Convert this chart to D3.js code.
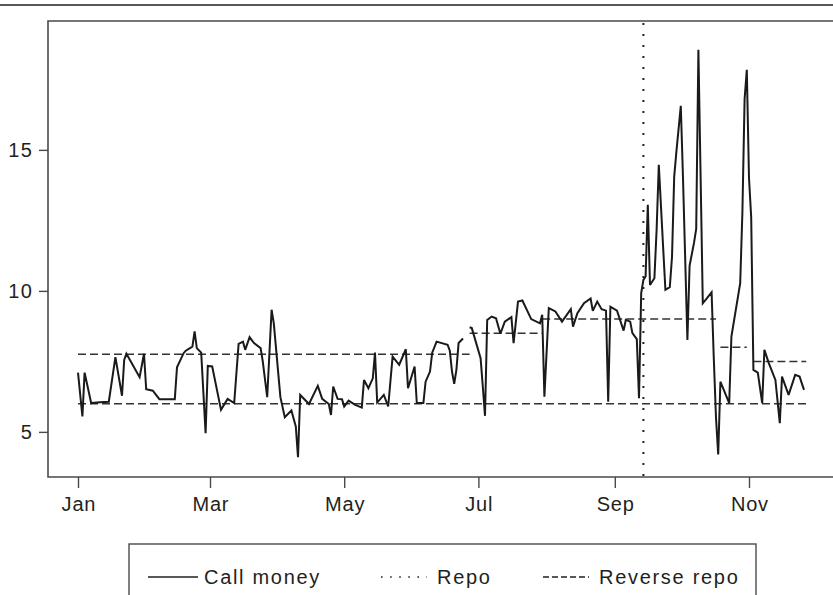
<!DOCTYPE html>
<html>
<head>
<meta charset="utf-8">
<script src="https://cdn.jsdelivr.net/npm/d3@7"></script>
<style>
  html, body { margin: 0; padding: 0; background: #fff; }
  svg { display: block; font-family: "Liberation Sans", Arial, Helvetica, sans-serif; }
</style>
</head>
<body>
<svg id="chart" width="833" height="595"></svg>
<script>
// Daily call money rate, 2008 (per cent)
const callDates = [
  "2008-01-01","2008-01-03","2008-01-04","2008-01-07","2008-01-11","2008-01-15","2008-01-18","2008-01-21","2008-01-22","2008-01-23",
  "2008-01-29","2008-01-31","2008-02-01","2008-02-04","2008-02-07","2008-02-14","2008-02-15","2008-02-18","2008-02-19","2008-02-22",
  "2008-02-23","2008-02-24","2008-02-26","2008-02-28","2008-02-29","2008-03-02","2008-03-06","2008-03-09","2008-03-12","2008-03-14",
  "2008-03-16","2008-03-17","2008-03-19","2008-03-21","2008-03-24","2008-03-25","2008-03-27","2008-03-29","2008-03-30","2008-04-02",
  "2008-04-04","2008-04-07","2008-04-09","2008-04-10","2008-04-11","2008-04-15","2008-04-19","2008-04-21","2008-04-24","2008-04-25",
  "2008-04-26","2008-04-28","2008-04-30","2008-05-01","2008-05-03","2008-05-06","2008-05-09","2008-05-10","2008-05-12","2008-05-14",
  "2008-05-15","2008-05-16","2008-05-19","2008-05-21","2008-05-23","2008-05-26","2008-05-29","2008-05-30","2008-06-02","2008-06-03",
  "2008-06-06","2008-06-07","2008-06-09","2008-06-10","2008-06-12","2008-06-17","2008-06-18","2008-06-19","2008-06-20","2008-06-21",
  "2008-06-22","2008-06-24","2008-06-25","2008-06-27","2008-06-28","2008-07-02","2008-07-03","2008-07-04","2008-07-05","2008-07-07",
  "2008-07-09","2008-07-11","2008-07-13","2008-07-16","2008-07-17","2008-07-19","2008-07-21","2008-07-25","2008-07-29","2008-07-30",
  "2008-07-31","2008-08-02","2008-08-05","2008-08-08","2008-08-12","2008-08-13","2008-08-15","2008-08-18","2008-08-21","2008-08-22",
  "2008-08-24","2008-08-26","2008-08-28","2008-08-29","2008-08-30","2008-09-02","2008-09-05","2008-09-06","2008-09-08","2008-09-09",
  "2008-09-11","2008-09-12","2008-09-13","2008-09-14","2008-09-15","2008-09-16","2008-09-17","2008-09-19","2008-09-20","2008-09-21",
  "2008-09-23","2008-09-24","2008-09-26","2008-09-27","2008-09-28","2008-09-29","2008-10-01","2008-10-02","2008-10-04","2008-10-05",
  "2008-10-07","2008-10-08","2008-10-09","2008-10-11","2008-10-13","2008-10-15","2008-10-16","2008-10-17","2008-10-18","2008-10-19",
  "2008-10-23","2008-10-24","2008-10-28","2008-10-29","2008-10-30","2008-10-31","2008-11-01","2008-11-02","2008-11-03","2008-11-05",
  "2008-11-07","2008-11-08","2008-11-10","2008-11-13","2008-11-15","2008-11-16","2008-11-19","2008-11-22","2008-11-24","2008-11-26"
];
const callRates = [
  7.10, 5.55, 7.10, 6.02, 6.05, 6.07, 7.65, 6.28, 7.55, 7.77,
  6.94, 7.77, 6.51, 6.46, 6.16, 6.16, 7.29, 7.79, 7.88, 8.02,
  8.56, 7.97, 7.81, 4.95, 7.34, 7.32, 5.78, 6.17, 6.02, 8.12,
  8.20, 7.91, 8.36, 8.15, 7.97, 7.49, 6.23, 9.33, 8.85, 6.23,
  5.52, 5.76, 5.19, 4.10, 6.31, 5.99, 6.63, 6.17, 5.99, 5.60,
  6.61, 6.17, 6.16, 5.90, 6.11, 5.96, 5.86, 6.84, 6.55, 6.90,
  7.81, 6.04, 6.31, 5.90, 7.67, 7.38, 7.93, 6.55, 7.32, 6.02,
  6.02, 6.78, 7.14, 7.81, 8.20, 8.09, 7.88, 7.14, 6.70, 7.20,
  8.15, 8.31, null, 8.71, 8.68, 7.61, 6.61, 5.57, 8.97, 9.09,
  9.03, 8.48, 8.91, 9.07, 8.15, 9.62, 9.66, 9.00, 8.85, 9.15,
  6.25, 9.39, 9.27, 8.91, 9.35, 8.73, 9.21, 9.56, 9.73, 9.29,
  9.62, 9.35, 9.30, 6.07, 9.44, 9.30, 8.59, 8.97, 8.91, 8.50,
  8.29, 6.19, 9.92, 10.39, 10.51, 13.05, 10.21, 10.45, 12.16, 14.47,
  11.50, 10.04, 10.13, 11.20, 14.05, 14.94, 16.56, 14.00, 8.26, 10.90,
  11.70, 12.20, 18.55, 9.56, 9.75, 9.95, 7.60, 5.50, 4.20, 6.78,
  6.02, 8.38, 10.27, 12.80, 16.80, 17.84, 14.00, 12.60, 7.20, 7.10,
  6.02, 7.91, 7.44, 6.84, 5.31, 6.96, 6.31, 7.02, 6.96, 6.49
];

// Stepped policy rate (upper band)
const upperStart = ["2008-01-01","2008-06-27","2008-07-30","2008-10-19","2008-11-03"];
const upperEnd   = ["2008-06-27","2008-07-30","2008-10-17","2008-10-31","2008-11-27"];
const upperRate  = [7.75, 8.5, 9, 8, 7.5];

// Flat lower band
const lowerStart = ["2008-01-01"];
const lowerEnd   = ["2008-11-27"];
const lowerRate  = [6];

// Vertical marker
const markerDate = "2008-09-14";

// Axis ticks
const xTickDates  = ["2008-01-01","2008-03-01","2008-05-01","2008-07-01","2008-09-01","2008-11-01"];
const xTickLabels = ["Jan","Mar","May","Jul","Sep","Nov"];
const yTicks = [5, 10, 15];

// Legend
const legendLabels = ["Call money", "Repo", "Reverse repo"];

const parse = d3.timeParse("%Y-%m-%d");
const svg = d3.select("#chart");

const frame = { left: 48, top: 21, right: 833, bottom: 477 };

const x = d3.scaleTime()
  .domain([parse("2008-01-01"), parse("2008-11-01")])
  .range([78, 749]);

const y = d3.scaleLinear()
  .domain([3.4, 19.57])
  .range([frame.bottom, frame.top]);

const ink = "#231f20";
const labelFont = "'Liberation Sans', Arial, Helvetica, sans-serif";

// top rule across the page
svg.append("line")
  .attr("x1", 0).attr("x2", 833).attr("y1", 5).attr("y2", 5)
  .attr("stroke", ink).attr("stroke-width", 1.6);

// plot frame (open on the right)
svg.append("path")
  .attr("d", `M${frame.right},${frame.top}H${frame.left}V${frame.bottom}H${frame.right}`)
  .attr("fill", "none").attr("stroke", "#4a4a4a").attr("stroke-width", 1.6);

// x axis
const xAxis = d3.axisBottom(x)
  .tickValues(xTickDates.map(parse))
  .tickFormat((d, i) => xTickLabels[i])
  .tickSize(11).tickPadding(9);
const gx = svg.append("g").attr("transform", `translate(0,${frame.bottom})`).call(xAxis);
gx.select(".domain").remove();
gx.selectAll(".tick line").attr("stroke", "#4a4a4a").attr("stroke-width", 1.4);
gx.selectAll(".tick text")
  .attr("font-size", 20).attr("fill", ink).attr("font-family", labelFont)
  .attr("letter-spacing", 0.8).attr("dx", 0.4);

// y axis
const yAxis = d3.axisLeft(y).tickValues(yTicks).tickSize(9).tickPadding(6);
const gy = svg.append("g").attr("transform", `translate(${frame.left},0)`).call(yAxis);
gy.select(".domain").remove();
gy.selectAll(".tick line").attr("stroke", "#4a4a4a").attr("stroke-width", 1.4);
gy.selectAll(".tick text")
  .attr("font-size", 20).attr("fill", ink).attr("font-family", labelFont)
  .attr("letter-spacing", 1.2);

// dashed rate bands
function drawSteps(starts, ends, rates) {
  svg.append("g").selectAll("line")
    .data(rates.map((r, i) => ({ s: parse(starts[i]), e: parse(ends[i]), r })))
    .join("line")
    .attr("x1", d => x(d.s)).attr("x2", d => x(d.e))
    .attr("y1", d => y(d.r)).attr("y2", d => y(d.r))
    .attr("stroke", "#333").attr("stroke-width", 1.5)
    .attr("stroke-dasharray", "8,4");
}
drawSteps(upperStart, upperEnd, upperRate);
drawSteps(lowerStart, lowerEnd, lowerRate);

// dotted vertical marker
svg.append("line")
  .attr("x1", x(parse(markerDate))).attr("x2", x(parse(markerDate)))
  .attr("y1", frame.top + 2).attr("y2", frame.bottom)
  .attr("stroke", "#222").attr("stroke-width", 2)
  .attr("stroke-dasharray", "2,9");

// call money line
const series = callDates.map((d, i) => ({ date: parse(d), v: callRates[i] }));
const line = d3.line()
  .defined(d => d.v !== null)
  .x(d => x(d.date))
  .y(d => y(d.v));
svg.append("path")
  .datum(series)
  .attr("d", line)
  .attr("fill", "none")
  .attr("stroke", "#1a1a1a")
  .attr("stroke-width", 2)
  .attr("stroke-linejoin", "miter")
  .attr("stroke-miterlimit", 3);

// legend
const lg = svg.append("g");
lg.append("rect")
  .attr("x", 129).attr("y", 544).attr("width", 627).attr("height", 80)
  .attr("fill", "#fff").attr("stroke", "#4a4a4a").attr("stroke-width", 1.4);

const legendItems = [
  { label: legendLabels[0], x1: 148, x2: 198, tx: 204, dash: null, w: 1.5 },
  { label: legendLabels[1], x1: 381, x2: 427, tx: 437, dash: "1.6,7.5", w: 1.6 },
  { label: legendLabels[2], x1: 543, x2: 589, tx: 599, dash: "6,3", w: 1.3 }
];
legendItems.forEach(it => {
  lg.append("line")
    .attr("x1", it.x1).attr("x2", it.x2).attr("y1", 577).attr("y2", 577)
    .attr("stroke", ink).attr("stroke-width", it.w)
    .attr("stroke-dasharray", it.dash);
  lg.append("text")
    .attr("x", it.tx).attr("y", 584)
    .attr("font-size", 20).attr("fill", ink).attr("font-family", labelFont)
    .attr("letter-spacing", 1.7)
    .text(it.label);
});
</script>
</body>
</html>
